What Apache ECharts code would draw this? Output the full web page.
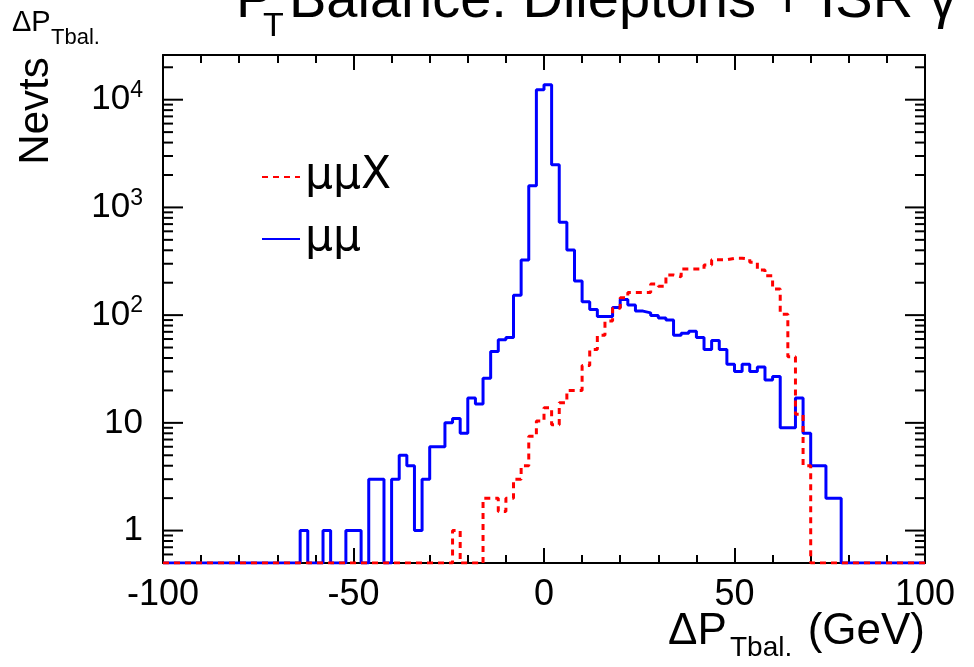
<!DOCTYPE html>
<html>
<head>
<meta charset="utf-8">
<script src="https://cdn.jsdelivr.net/npm/echarts@6/dist/echarts.min.js"></script>
<style>
  html, body { margin: 0; padding: 0; background: #fff; }
  #chart { width: 974px; height: 667px; }
</style>
</head>
<body>
<div id="chart"></div>
<script>
// histogram binning: 100 bins of 2 GeV from -100 to 100
var binStart = -100;
var binWidth = 2;

// ΔPTbal for μμ events (blue, solid)
var muMu = [
    0, 0, 0, 0, 0, 0, 0, 0, 0, 0,
    0, 0, 0, 0, 0, 0, 0, 0, 1, 0,
    0, 1, 0, 0, 1, 1, 0, 3, 3, 0,
    3, 5, 4, 1, 3, 6, 6, 10, 11, 8,
    17, 15, 26, 46, 59, 62, 153, 325, 1585, 12400,
    13800, 2485, 728, 402, 207, 133, 113, 97, 97, 118,
    140, 124, 109, 105, 99, 94, 90, 65, 68, 71,
    62, 48, 58, 48, 35, 30, 35, 30, 33, 25,
    27, 9, 9, 17, 8, 4, 4, 2, 2, 0,
    0, 0, 0, 0, 0, 0, 0, 0, 0, 0
];

// ΔPTbal for μμX events (red, dashed)
var muMuX = [
    0, 0, 0, 0, 0, 0, 0, 0, 0, 0,
    0, 0, 0, 0, 0, 0, 0, 0, 0, 0,
    0, 0, 0, 0, 0, 0, 0, 0, 0, 0,
    0, 0, 0, 0, 0, 0, 0, 0, 1, 0,
    0, 0, 2, 2, 1.5, 2, 3, 4, 7.5, 10.4,
    13.8, 9.6, 15.4, 20, 20, 34, 48, 65, 88, 116,
    145, 162, 162, 162, 195, 185, 236, 227, 268, 268,
    268, 292, 327, 327, 337, 337, 331, 309, 262, 232,
    175, 102, 41, 12, 4, 0, 0, 0, 0, 0,
    0, 0, 0, 0, 0, 0, 0, 0, 0, 0
];

// y axis range and tick marks (log scale)
var yMin = 0.5, yMax = 26000;
var yMajorTicks = [1, 10, 100, 1000, 10000];
var yMinorTicks = [0.6, 0.7, 0.8, 0.9,
    2, 3, 4, 5, 6, 7, 8, 9,
    20, 30, 40, 50, 60, 70, 80, 90,
    200, 300, 400, 500, 600, 700, 800, 900,
    2000, 3000, 4000, 5000, 6000, 7000, 8000, 9000,
    20000];

var FONT = "'Liberation Sans', Arial, Helvetica, sans-serif";

// build step data: one point per left bin edge, plus the last right edge
function toSteps(values) {
    var pts = values.map(function (v, i) {
        return [binStart + i * binWidth, v > 0 ? v : yMin];
    });
    var last = values[values.length - 1];
    pts.push([binStart + values.length * binWidth, last > 0 ? last : yMin]);
    return pts;
}

var tickData = [];
yMajorTicks.forEach(function (v) { tickData.push([binStart, v, 1]); });
yMinorTicks.forEach(function (v) { tickData.push([binStart, v, 0]); });

var myChart = echarts.init(document.getElementById('chart'));

var xAxisBase = {
    type: 'value',
    min: -100,
    max: 100,
    interval: 50,
    axisLine: { onZero: false, lineStyle: { color: '#000', width: 2 } },
    axisTick: { inside: true, length: 15, lineStyle: { color: '#000', width: 2 } },
    minorTick: { show: true, splitNumber: 5, length: 8, lineStyle: { color: '#000', width: 2 } },
    splitLine: { show: false },
    minorSplitLine: { show: false }
};

var option = {
    animation: false,
    backgroundColor: '#fff',
    grid: { left: 163, right: 49, top: 55, bottom: 104 },
    legend: {
        data: ['μμX', 'μμ'],
        orient: 'vertical',
        left: 256,
        top: 150,
        itemWidth: 38,
        itemHeight: 14,
        itemGap: 18,
        itemStyle: { opacity: 0 },
        textStyle: { fontSize: 44, lineHeight: 42, color: '#000', fontFamily: "'DejaVu Sans', sans-serif" }
    },
    xAxis: [
        Object.assign({}, xAxisBase, {
            position: 'bottom',
            axisLabel: { fontSize: 36, color: '#000', margin: 14, fontFamily: FONT }
        }),
        Object.assign({}, xAxisBase, {
            position: 'top',
            axisLabel: { show: false }
        })
    ],
    yAxis: [
        {
            type: 'log',
            logBase: 10,
            min: yMin,
            max: yMax,
            position: 'left',
            axisLine: { onZero: false, lineStyle: { color: '#000', width: 2 } },
            axisTick: { show: false },
            splitLine: { show: false },
            axisLabel: {
                showMinLabel: false,
                showMaxLabel: false,
                margin: 20,
                color: '#000',
                fontSize: 35,
                fontFamily: FONT,
                formatter: function (v) {
                    var e = Math.round(Math.log10(v));
                    if (Math.abs(Math.log10(v) - e) > 1e-6) return '';
                    if (e === 0) return '1';
                    if (e === 1) return '10';
                    return '10{sup|' + e + '}';
                },
                rich: {
                    sup: { fontSize: 23, fontFamily: FONT, color: '#000', verticalAlign: 'top', padding: [0, 0, 18, 0] }
                }
            }
        },
        {
            type: 'log',
            logBase: 10,
            min: yMin,
            max: yMax,
            position: 'right',
            axisLine: { onZero: false, lineStyle: { color: '#000', width: 2 } },
            axisTick: { show: false },
            axisLabel: { show: false },
            splitLine: { show: false }
        }
    ],
    series: [
        {
            name: 'μμ',
            type: 'line',
            step: 'end',
            symbol: 'none',
            data: toSteps(muMu),
            lineStyle: { color: '#0000ff', width: 3 },
            itemStyle: { color: '#0000ff' },
            z: 3
        },
        {
            name: 'μμX',
            type: 'line',
            step: 'end',
            symbol: 'none',
            data: toSteps(muMuX),
            lineStyle: { color: '#ff0000', width: 3, type: [6, 5] },
            itemStyle: { color: '#ff0000' },
            z: 4
        },
        {
            // y tick marks on both sides of the frame
            type: 'custom',
            silent: true,
            data: tickData,
            encode: { x: 0, y: 1 },
            z: 5,
            renderItem: function (params, api) {
                var v = api.value(1);
                var len = api.value(2) ? 20 : 10;
                var pl = api.coord([-100, v]);
                var pr = api.coord([100, v]);
                var st = { stroke: '#000', lineWidth: 2 };
                return {
                    type: 'group',
                    children: [
                        { type: 'line', shape: { x1: pl[0], y1: pl[1], x2: pl[0] + len, y2: pl[1] }, style: st },
                        { type: 'line', shape: { x1: pr[0], y1: pr[1], x2: pr[0] - len, y2: pr[1] }, style: st }
                    ]
                };
            }
        }
    ],
    graphic: [
        // title, mostly cut off at the top
        { type: 'text', left: 236, top: -26, style: { text: 'P', fontSize: 56, fontFamily: FONT, fill: '#000' } },
        { type: 'text', left: 263, top: 10, style: { text: 'T', fontSize: 34, fontFamily: FONT, fill: '#000' } },
        { type: 'text', left: 289, top: -26, style: { text: 'Balance: Dileptons + ISR γ', fontSize: 56, fontFamily: FONT, fill: '#000' } },
        // top-left variable tag
        { type: 'text', left: 12, top: 8, style: { text: 'ΔP', fontSize: 29, fontFamily: FONT, fill: '#000' } },
        { type: 'text', left: 51, top: 27, style: { text: 'Tbal.', fontSize: 22, fontFamily: FONT, fill: '#000' } },
        // y axis title
        { type: 'text', x: 36, y: 111, rotation: Math.PI / 2,
          style: { text: 'Nevts', fontSize: 42, fontFamily: FONT, fill: '#000', align: 'center', verticalAlign: 'middle' } },
        // x axis title
        { type: 'text', left: 668, top: 610, style: { text: 'ΔP', fontSize: 44, fontFamily: FONT, fill: '#000' } },
        { type: 'text', left: 730, top: 634, style: { text: 'Tbal.', fontSize: 28, fontFamily: FONT, fill: '#000' } },
        { type: 'text', right: 49, top: 610, style: { text: '(GeV)', fontSize: 44, fontFamily: FONT, fill: '#000' } }
    ]
};

myChart.setOption(option);
</script>
</body>
</html>
